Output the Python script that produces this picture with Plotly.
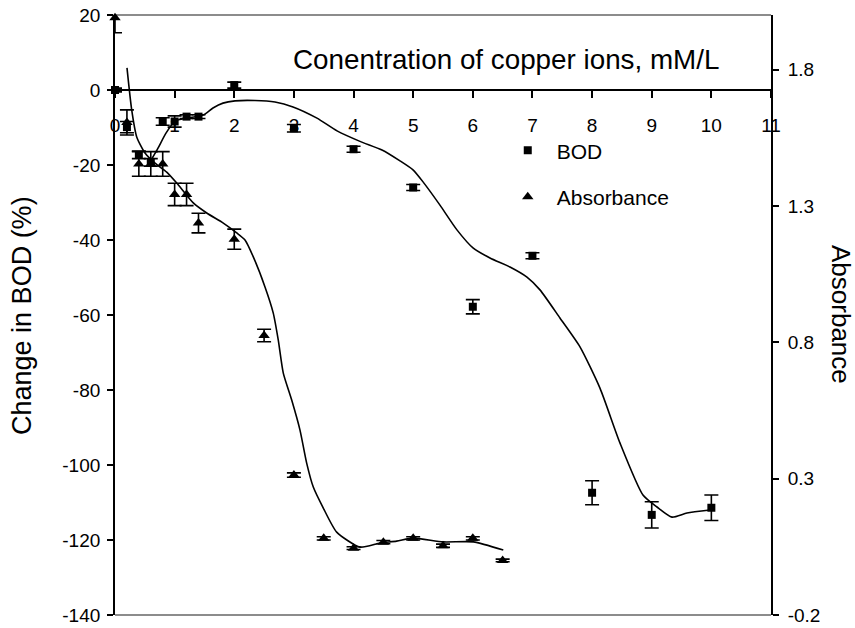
import plotly.graph_objects as go

# Copper ion concentration (mM/L) and measured responses
bod_conc = [0, 0.2, 0.4, 0.6, 0.8, 1.0, 1.2, 1.4, 2, 3, 4, 5, 6, 7, 8, 9, 10]
bod_change = [0, -9.9, -17.3, -19.3, -8.4, -8.4, -7.1, -7.1, 1.3, -10.2, -15.8,
              -26.0, -57.8, -44.2, -107.4, -113.3, -111.4]
bod_err = [0.5, 1.5, 1.0, 1.0, 1.0, 1.5, 0.5, 0.5, 0.8, 1.0, 0.8, 0.8, 1.9, 0.8,
           3.2, 3.5, 3.4]

abs_conc = [0, 0.2, 0.4, 0.6, 0.8, 1.0, 1.2, 1.4, 2.0, 2.5, 3.0, 3.5, 4.0, 4.5,
            5.0, 5.5, 6.0, 6.5]
absorbance = [1.99, 1.606, 1.454, 1.454, 1.454, 1.342, 1.342, 1.237, 1.178, 0.825,
              0.313, 0.081, 0.045, 0.067, 0.081, 0.054, 0.081, 0.0]
abs_err = [0.055, 0.046, 0.045, 0.045, 0.045, 0.041, 0.041, 0.036, 0.037, 0.023,
           0.008, 0.006, 0.005, 0.006, 0.006, 0.006, 0.006, 0.005]

# Smoothed trend lines
bod_fit_x = [0.587, 0.721, 0.855, 1.006, 1.207, 1.476, 1.643, 1.811, 2.012, 2.347,
             2.683, 2.985, 3.387, 3.723, 4.108, 4.477, 4.779, 4.997, 5.165, 5.449,
             5.734, 6.003, 6.288, 6.623, 6.908, 7.126, 7.461, 7.797, 8.132, 8.467,
             8.853, 9.088, 9.339, 9.591, 9.977]
bod_fit_y = [-19.2, -15.5, -11.5, -8.3, -7.5, -6.7, -4.8, -3.5, -2.9, -2.8, -3.2,
             -4.5, -7.5, -10.9, -13.7, -16.0, -18.9, -21.3, -24.5, -30.7, -37.3,
             -42.1, -44.8, -47.2, -49.9, -53.3, -60.8, -68.5, -79.5, -94.1, -108.0,
             -111.2, -113.9, -112.8, -112.0]
abs_fit_x = [0.201, 0.28, 0.364, 0.503, 0.671, 0.867, 1.035, 1.313, 1.538, 1.816,
             2.041, 2.18, 2.319, 2.515, 2.654, 2.738, 2.822, 2.963, 3.102, 3.214,
             3.325, 3.493, 3.717, 4.108, 4.443, 4.723, 5.002, 5.505, 6.008, 6.511]
abs_fit_y = [1.806, 1.652, 1.553, 1.494, 1.457, 1.424, 1.384, 1.311, 1.274, 1.237,
             1.201, 1.175, 1.113, 1.003, 0.907, 0.808, 0.687, 0.588, 0.478, 0.357,
             0.269, 0.192, 0.104, 0.049, 0.064, 0.071, 0.082, 0.068, 0.068, 0.038]

x_ticks = list(range(0, 12))
bod_ticks = list(range(-140, 21, 20))
abs_ticks = [-0.2, 0.3, 0.8, 1.3, 1.8]

FONT = "Liberation Sans, Arial, sans-serif"
BLACK = "#000000"

fig = go.Figure()

# Trend curves
fig.add_trace(go.Scatter(x=bod_fit_x, y=bod_fit_y, mode="lines",
                         line=dict(color=BLACK, width=1.6, shape="spline", smoothing=0.6),
                         showlegend=False, hoverinfo="skip"))
fig.add_trace(go.Scatter(x=abs_fit_x, y=abs_fit_y, mode="lines", yaxis="y2",
                         line=dict(color=BLACK, width=1.6, shape="spline", smoothing=0.6),
                         showlegend=False, hoverinfo="skip"))

# Error bars (clipped to the plotting area)
err_style = dict(type="data", color=BLACK, thickness=1.6, width=7)
fig.add_trace(go.Scatter(x=bod_conc, y=bod_change, mode="markers",
                         marker=dict(size=1, opacity=0),
                         error_y=dict(array=bod_err, **err_style),
                         showlegend=False, hoverinfo="skip", cliponaxis=True))
fig.add_trace(go.Scatter(x=abs_conc, y=absorbance, mode="markers", yaxis="y2",
                         marker=dict(size=1, opacity=0),
                         error_y=dict(array=abs_err, **err_style),
                         showlegend=False, hoverinfo="skip", cliponaxis=True))

# Data markers
fig.add_trace(go.Scatter(x=bod_conc, y=bod_change, mode="markers", name="BOD",
                         legendgroup="bod",
                         marker=dict(symbol="square", size=8, color=BLACK),
                         cliponaxis=False))
fig.add_trace(go.Scatter(x=abs_conc, y=absorbance, mode="markers", name="Absorbance",
                         legendgroup="abs", yaxis="y2",
                         marker=dict(symbol="triangle-up", size=10, color=BLACK),
                         cliponaxis=False))

axis_font = dict(family=FONT, size=19, color=BLACK)


def fmt(v):
    # plain hyphen-minus labels
    return f"{v:g}"


fig.update_layout(
    width=855, height=628, autosize=False,
    margin=dict(l=115, r=84, t=15, b=13, pad=0),
    paper_bgcolor="white", plot_bgcolor="white",
    font=dict(family=FONT, color=BLACK),
    xaxis=dict(range=[0, 11], tickvals=x_ticks, ticktext=[fmt(v) for v in x_ticks],
               anchor="free", position=0.875, showline=True, linecolor=BLACK,
               linewidth=1.6, ticks="outside", ticklen=7, tickwidth=1.6,
               tickcolor=BLACK, tickfont=axis_font, ticklabelstandoff=11,
               showgrid=False, zeroline=False, automargin=False),
    yaxis=dict(range=[-140, 20], tickvals=bod_ticks,
               ticktext=[fmt(v) for v in bod_ticks], domain=[0, 1],
               showline=True, linecolor=BLACK, linewidth=1.8, ticks="outside",
               ticklen=6, tickwidth=1.6, tickcolor=BLACK, tickfont=axis_font,
               ticklabelstandoff=3, showgrid=False, zeroline=False, automargin=False),
    yaxis2=dict(range=[-0.2, 2.0], tickvals=abs_ticks,
                ticktext=[fmt(v) for v in abs_ticks], overlaying="y", side="right",
                anchor="x", showline=True, linecolor=BLACK, linewidth=1.8,
                ticks="outside", ticklen=6, tickwidth=1.6, tickcolor=BLACK,
                tickfont=axis_font, ticklabelstandoff=5, showgrid=False,
                zeroline=False, automargin=False),
    legend=dict(x=0.585, y=0.808, xanchor="left", yanchor="top",
                font=dict(family=FONT, size=21, color=BLACK), itemwidth=48,
                bgcolor="rgba(0,0,0,0)", traceorder="grouped", tracegroupgap=16),
    shapes=[
        dict(type="line", xref="x domain", yref="y domain", x0=0, x1=1, y0=1, y1=1,
             line=dict(color="#8c8c8c", width=2), layer="below"),
        dict(type="line", xref="x domain", yref="y domain", x0=0, x1=1, y0=0, y1=0,
             line=dict(color="#8c8c8c", width=2), layer="below"),
    ],
    annotations=[
        dict(text="Conentration of copper ions, mM/L", xref="paper", yref="paper",
             x=0.596, y=0.925, xanchor="center", yanchor="middle", showarrow=False,
             font=dict(family=FONT, size=27.8, color=BLACK)),
        dict(text="Change in BOD (%)", xref="paper", yref="paper",
             x=-0.1418, y=0.5, xanchor="center", yanchor="middle", showarrow=False,
             textangle=-90, font=dict(family=FONT, size=27, color=BLACK)),
        dict(text="Absorbance", xref="paper", yref="paper",
             x=1.1067, y=0.5, xanchor="center", yanchor="middle", showarrow=False,
             textangle=90, font=dict(family=FONT, size=26, color=BLACK)),
    ],
)

fig.write_html("out.html")
